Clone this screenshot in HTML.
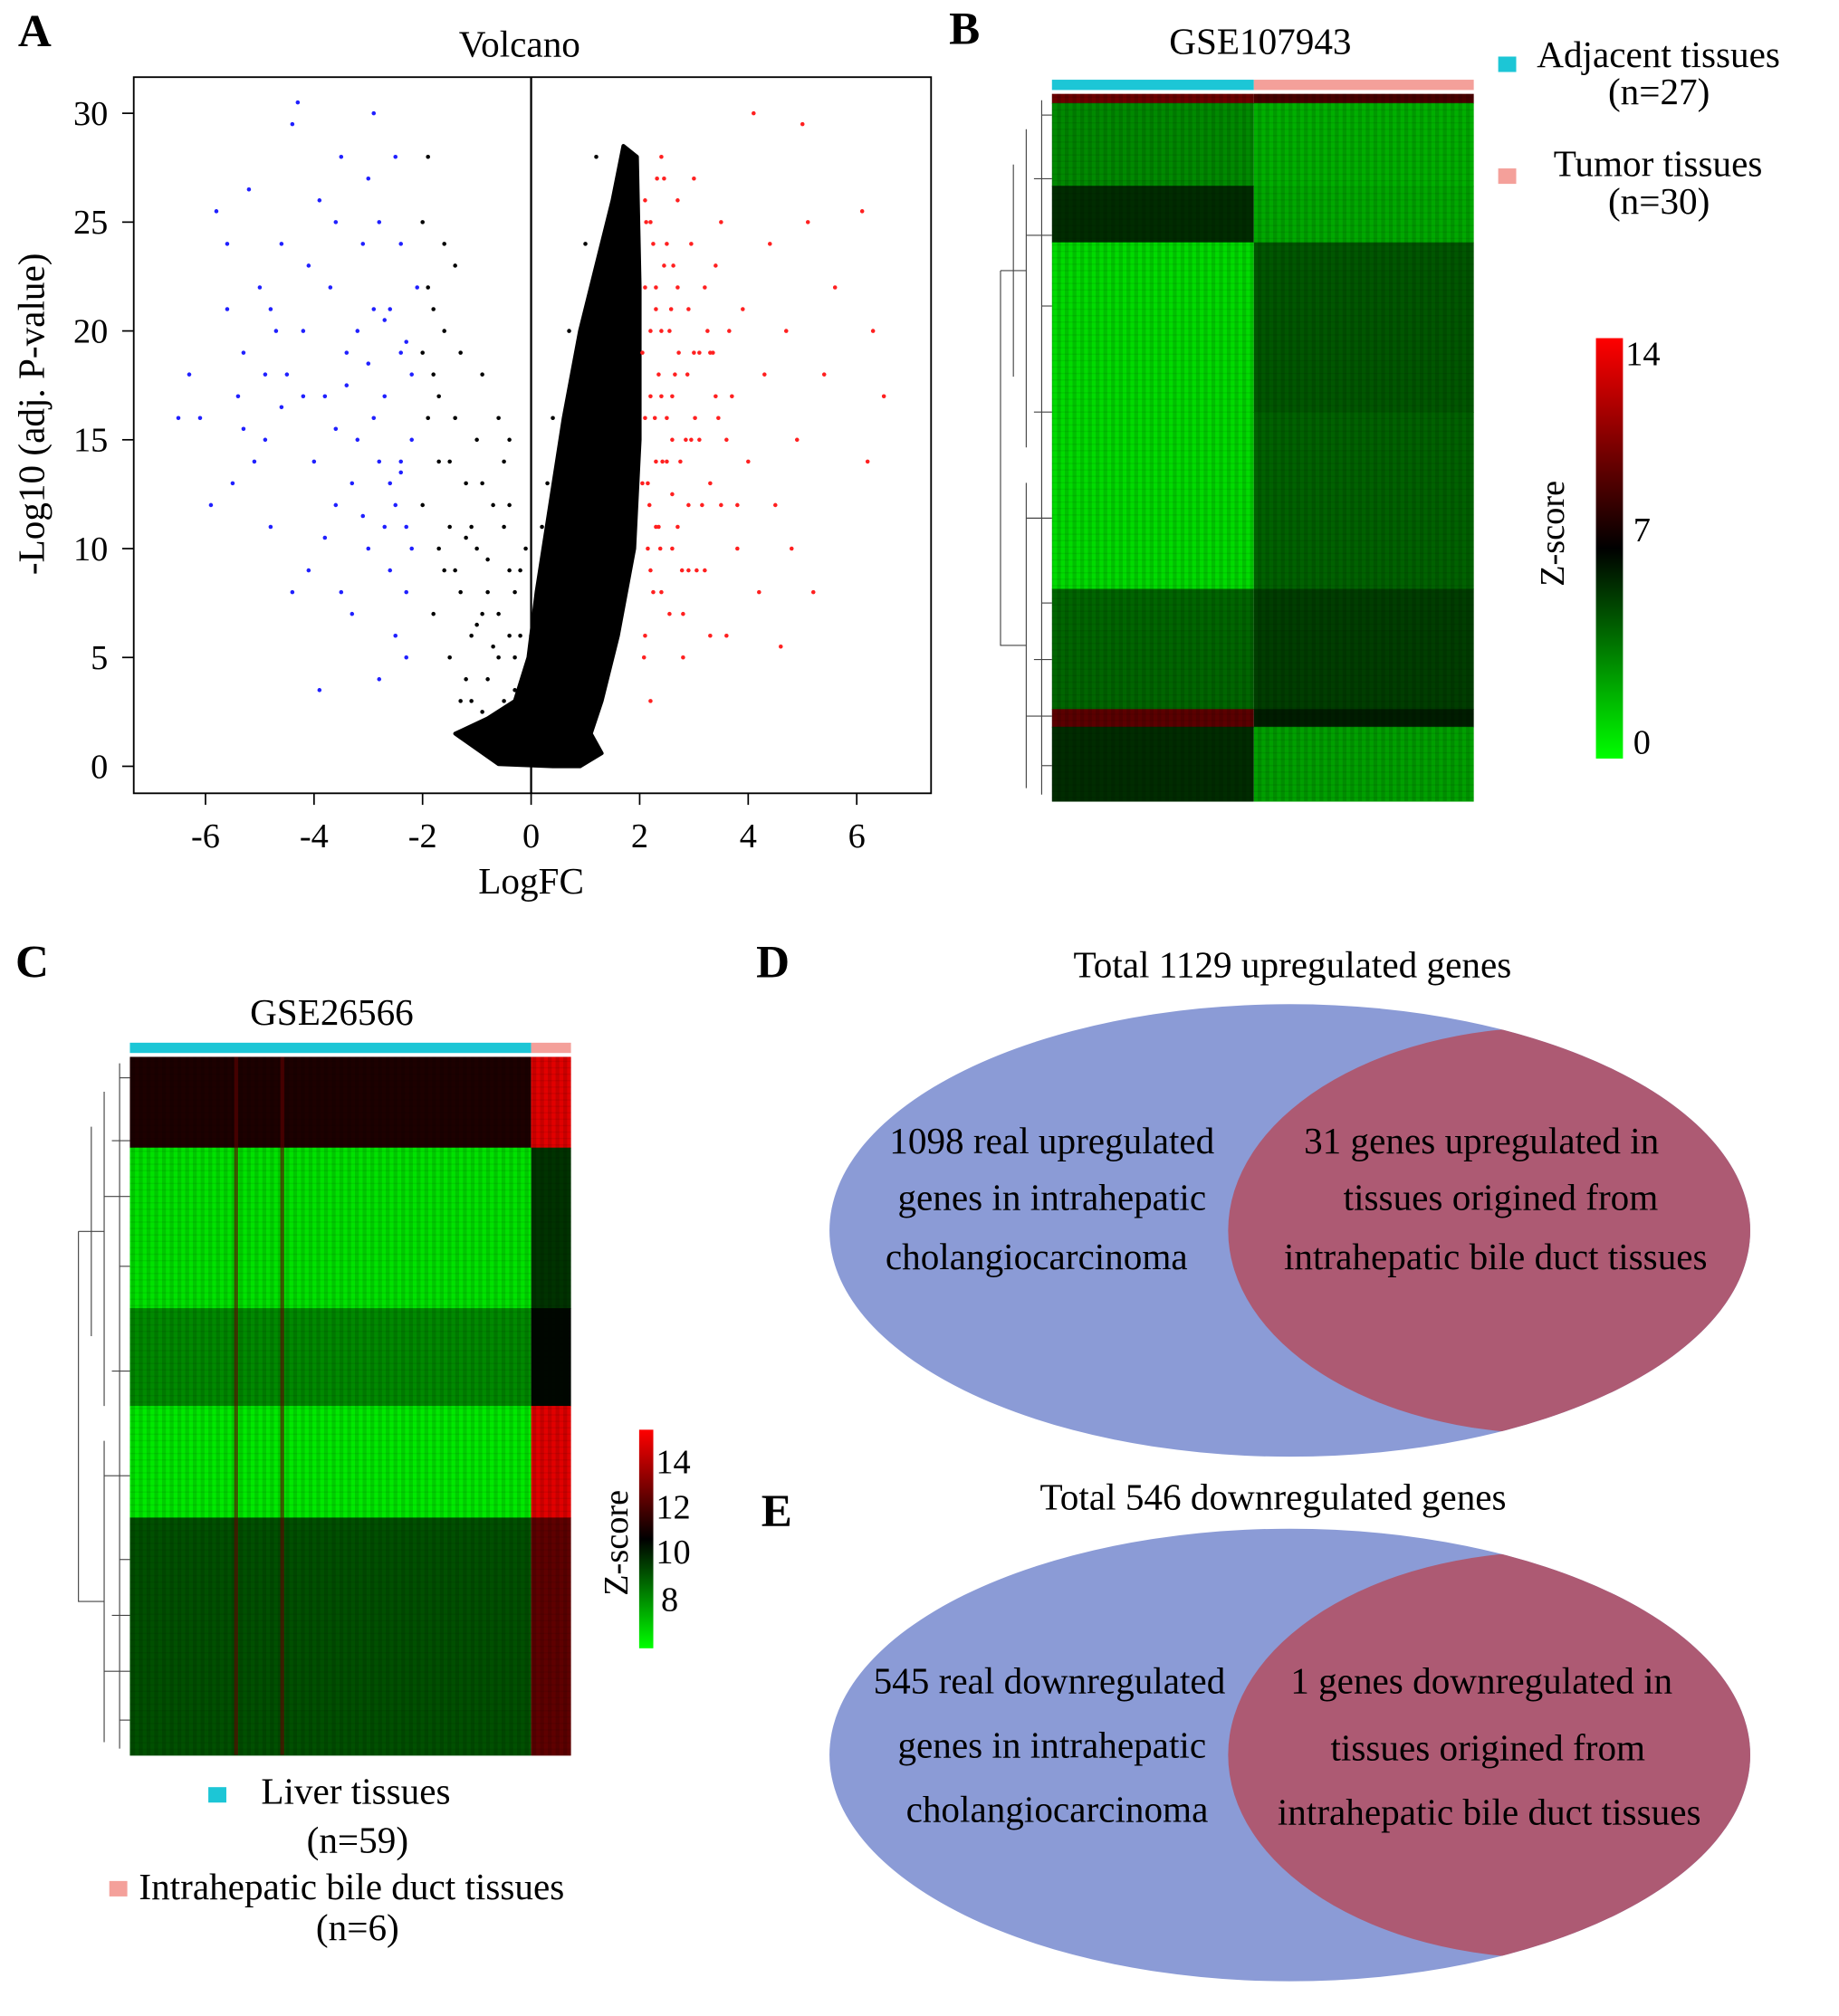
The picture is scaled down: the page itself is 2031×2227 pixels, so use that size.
<!DOCTYPE html>
<html><head><meta charset="utf-8"><style>
html,body{margin:0;padding:0;background:#fff;}
svg{display:block;font-family:"Liberation Serif",serif;}
</style></head><body>
<svg id="fig" width="2031" height="2227" viewBox="0 0 1430 1568" xmlns="http://www.w3.org/2000/svg">
<defs>
<linearGradient id="zgrad" x1="0" y1="1" x2="0" y2="0"><stop offset="0" stop-color="#00ff00"/><stop offset="0.5" stop-color="#000"/><stop offset="1" stop-color="#ff0000"/></linearGradient>
<clipPath id="clipD"><ellipse cx="1003" cy="957" rx="358" ry="176"/></clipPath>
<clipPath id="clipE"><ellipse cx="1003" cy="1365" rx="358" ry="176"/></clipPath>
<pattern id="stripes" width="6" height="5" patternUnits="userSpaceOnUse"><rect width="3" height="5" fill="#000" opacity="0.12"/><rect y="0" width="6" height="1" fill="#000" opacity="0.08"/></pattern>
</defs>
<!-- Panel A -->
<text x="14" y="36" font-size="36" font-weight="bold">A</text>
<text x="404" y="44" font-size="29" text-anchor="middle">Volcano</text>
<g id="volcano"></g>
<rect x="104" y="60" width="620" height="557" fill="none" stroke="#000" stroke-width="1.3"/>
<text x="413" y="695" font-size="29" text-anchor="middle">LogFC</text>
<text transform="translate(34,322) rotate(-90)" font-size="29" text-anchor="middle">-Log10 (adj. P-value)</text>
<!-- Panel B -->
<text x="738" y="34" font-size="36" font-weight="bold">B</text>
<text x="980" y="42" font-size="29" text-anchor="middle">GSE107943</text>
<g id="heatB"></g>
<rect x="1165" y="44" width="14" height="12" fill="#1cc6d6"/>
<text x="1195" y="52" font-size="29">Adjacent tissues</text>
<text x="1290" y="81" font-size="29" text-anchor="middle">(n=27)</text>
<rect x="1165" y="131" width="14" height="12" fill="#f4a09a"/>
<text x="1208" y="137" font-size="29">Tumor tissues</text>
<text x="1290" y="166" font-size="29" text-anchor="middle">(n=30)</text>
<rect x="1241" y="263" width="21" height="327" fill="url(#zgrad)"/>
<text x="1264" y="284" font-size="27">14</text>
<text x="1270" y="421" font-size="27">7</text>
<text x="1270" y="586" font-size="27">0</text>
<text transform="translate(1216,415) rotate(-90)" font-size="27" text-anchor="middle">Z-score</text>
<!-- Panel C -->
<text x="12" y="760" font-size="36" font-weight="bold">C</text>
<text x="258" y="797" font-size="29" text-anchor="middle">GSE26566</text>
<g id="heatC"></g>
<rect x="497" y="1112" width="11" height="170" fill="url(#zgrad)"/>
<text x="510" y="1146" font-size="27">14</text>
<text x="510" y="1181" font-size="27">12</text>
<text x="510" y="1216" font-size="27">10</text>
<text x="514" y="1253" font-size="27">8</text>
<text transform="translate(488,1200) rotate(-90)" font-size="27" text-anchor="middle">Z-score</text>
<rect x="162" y="1390" width="14" height="12" fill="#1cc6d6"/>
<text x="203" y="1403" font-size="29">Liver tissues</text>
<text x="278" y="1441" font-size="29" text-anchor="middle">(n=59)</text>
<rect x="85" y="1463" width="14" height="12" fill="#f4a09a"/>
<text x="108" y="1477" font-size="29">Intrahepatic bile duct tissues</text>
<text x="278" y="1509" font-size="29" text-anchor="middle">(n=6)</text>
<!-- Panel D -->
<text x="588" y="760" font-size="36" font-weight="bold">D</text>
<text x="1005" y="760" font-size="29" text-anchor="middle">Total 1129 upregulated genes</text>
<g>
<ellipse cx="1003" cy="957" rx="358" ry="176" fill="#8b9bd6"/>
<ellipse cx="1205" cy="957" rx="250" ry="158" fill="#ad5a73" clip-path="url(#clipD)"/>
</g>
<g font-size="29" text-anchor="middle">
<text x="818" y="897">1098 real upregulated</text>
<text x="818" y="941">genes in intrahepatic</text>
<text x="806" y="987">cholangiocarcinoma</text>
<text x="1152" y="897">31 genes upregulated in</text>
<text x="1167" y="941">tissues origined from</text>
<text x="1163" y="987">intrahepatic bile duct tissues</text>
</g>
<!-- Panel E -->
<text x="592" y="1187" font-size="36" font-weight="bold">E</text>
<text x="990" y="1174" font-size="29" text-anchor="middle">Total 546 downregulated genes</text>
<g>
<ellipse cx="1003" cy="1365" rx="358" ry="176" fill="#8b9bd6"/>
<ellipse cx="1205" cy="1365" rx="250" ry="158" fill="#ad5a73" clip-path="url(#clipE)"/>
</g>
<g font-size="29" text-anchor="middle">
<text x="816" y="1317">545 real downregulated</text>
<text x="818" y="1367">genes in intrahepatic</text>
<text x="822" y="1417">cholangiocarcinoma</text>
<text x="1152" y="1317">1 genes downregulated in</text>
<text x="1157" y="1369">tissues origined from</text>
<text x="1158" y="1419">intrahepatic bile duct tissues</text>
</g>
</svg>
<script>
// ---- Volcano data ----
const xTicks = [-6,-4,-2,0,2,4,6];
const yTicks = [0,5,10,15,20,25,30];
const blueX = [-6.3,-6.1,-5.8,-5.6,-5.5,-5.3,-5.2,-5.0,-4.9,-4.8,-4.6,-4.5,-4.3,-4.2,-4.1,-4.0,-3.9,-3.8,-3.7,-3.6,-3.5,-3.4,-3.3,-3.2,-3.1,-3.0,-2.9,-2.8,-2.7,-2.6,-2.5,-2.4,-2.3,-2.2,-2.1,-5.9,-5.4,-4.7,-4.4,-3.9,-3.6,-3.3,-2.9,-2.6,-2.3,-4.9,-4.1,-3.0,-2.5,-5.1,-6.5,-4.4,-2.9,-3.8,-3.4,-2.4,-2.7,-3.1,-4.6,-5.6,-2.2,-2.4,-2.6,-2.3,-2.8,-3.5,-2.2,-2.5,-3.2,-2.8,-4.2,-3.6,-2.3,-3.0,-4.8,-5.3,-2.7,-2.4];
const blueY = [18,16,25.5,21,13,19,26.5,22,15,11,24,18,30.5,20,9,14,26,17,22,12,28,19,7,15,24,10,21,4,17,13,28,19,8,15,22,12,17,20,8,3.5,25,13,16,9,11,18,23,27,6,14,16,29.5,30,10.5,17.5,24,20.5,11.5,16.5,24,18,14,21,5,25,8,10,12,20,14,17,15.5,19.5,18.5,21,15.5,11,13.5];
const greyX = [-2.0,-1.9,-1.8,-1.7,-1.6,-1.5,-1.4,-1.3,-1.2,-1.1,-1.0,-0.9,-0.8,-0.7,-0.6,-0.5,-0.4,-0.3,-0.2,-1.9,-1.6,-1.3,-1.0,-0.7,-1.5,-2.0,-1.8,-1.1,-0.9,-0.5,-1.4,-1.9,-0.6,-1.2,-0.3,0.2,0.0,0.4,0.7,1.0,1.2,-0.1,-1.7,-1.2,-0.8,-0.4,-1.5,-0.9,-0.2,-0.6,-1.0,-1.4,-0.3,-0.8,-1.1,-0.5,-0.7,-0.4,-0.9,-1.3,-0.2,-0.6,0.1,0.3,-1.7,-1.8,-2.0,-1.6,-0.1,-0.4];
const greyY = [25,22,18,14,20,11,16,8,13,6,10,18,4,12,7,3,9,5,2.5,16,9,19,15,2,5,12,7,3,13,11,23,28,16,10.5,8,11,6,16,20,24,28,4,10,4,8,6,14,7,6,5,6.5,9,3.5,9.5,11,14,5.5,12,2.5,3,9,2,7,13,17,21,19,24,10,15];
const coreX = [-1.4,-0.8,-0.3,-0.05,0.1,0.35,0.6,0.9,1.2,1.5,1.7,1.95,2.0,2.0,1.9,1.6,1.3,1.1,1.3,0.9,0.4,-0.6];
const coreY = [1.5,2.2,3,5,8,12,16,20,23,26,28.5,28,22,15,10,6,3,1.5,0.6,0,0,0.1];
const redX = [2.1,2.2,2.3,2.4,2.5,2.6,2.7,2.8,2.9,3.0,3.1,3.2,3.3,3.4,3.5,3.6,3.7,3.8,3.9,4.0,4.1,4.2,4.3,4.4,4.5,4.7,4.9,5.0,5.2,5.4,5.6,6.1,6.2,6.3,6.5,2.2,2.4,2.6,2.3,2.5,2.7,2.9,3.1,3.3,3.5,2.15,2.35,2.55,2.75,2.95,3.15,3.45,3.65,4.6,5.1,4.8,2.1,2.2,2.3,2.45,2.1,2.25,2.4,2.6,2.05,2.2,2.05,2.1,2.15,2.2,2.25,2.3,2.35,2.4,2.45,2.5,2.55,2.6,2.65,2.7,2.8,2.85,2.9,3.0,3.05,3.2,3.3,3.4,3.6,3.8,2.12,2.28,2.42,2.58,2.72,2.88,3.02,3.25,2.18,2.38,2.62,2.78,2.95,3.35,2.08,2.32];
const redY = [26,20,14,8,24,17,11,5,21,27,15,9,19,23,12,6,17,10,21,14,30,8,18,24,12,20,15,29.5,8,18,22,25.5,14,20,17,3,28,12.5,22,16,26,9,19,6,25,10,18,7,14,24,12,16,20,5.5,25,10,22,17,11,27,6,24,20,15,13,9,19,16,13,25,8,21,11,17,23,14,20,10,18,22,7,15,12,19,9,22,13,17,15,12,25,16,14,21,19,18,16,20,12,10,23,9,15,19,5,27];

const NS='http://www.w3.org/2000/svg';
function mk(tag, attrs, parent){const e=document.createElementNS(NS,tag);for(const k in attrs)e.setAttribute(k,attrs[k]);parent.appendChild(e);return e;}
const sx = v => 413 + 42.2*v;
const sy = v => 596 - 16.93*v;
const vg = document.getElementById('volcano');

let pts = coreX.map((x,i)=>sx(x)+','+sy(coreY[i])).join(' ');
let core = mk('polygon',{points:pts,fill:'#000',stroke:'#000','stroke-width':3,'stroke-linejoin':'round'},vg);


function dots(xs,ys,col,name){
  xs.forEach((x,i)=>{
    const c = mk('circle',{cx:sx(x),cy:sy(ys[i]),r:1.6,fill:col},vg);
    
    
  });
}
dots(greyX,greyY,'#000','point-nonsig');
dots(blueX,blueY,'#2020ff','point-down');
dots(redX,redY,'#ff2020','point-up');
const zl = mk('line',{x1:sx(0),x2:sx(0),y1:60,y2:617,stroke:'#000','stroke-width':1.6},vg);


xTicks.forEach(t=>{
  mk('line',{x1:sx(t),x2:sx(t),y1:617,y2:626,stroke:'#000','stroke-width':1.2},vg);
  const tx = mk('text',{x:sx(t),y:659,'font-size':27,'text-anchor':'middle'},vg);
  tx.textContent=t;
  
  
});
yTicks.forEach(t=>{
  mk('line',{x1:95,x2:104,y1:sy(t),y2:sy(t),stroke:'#000','stroke-width':1.2},vg);
  const tx = mk('text',{x:84,y:sy(t)+9,'font-size':27,'text-anchor':'end'},vg);
  tx.textContent=t;
  
  
});

// ---- Heatmap data ----
const bRowStart = [0,1.3,13,21,45,70,87,89.5];
const bRowEnd   = [1.3,13,21,45,70,87,89.5,100];
const bLeftZ    = [10,3.2,5.8,1.0,1.0,4.2,9.5,5.8];
const bRightZ   = [9,2.2,2.4,4.6,4.3,5.3,6.2,2.6];
const cRowStart = [0,13,36,50,66];
const cRowEnd   = [13,36,50,66,100];
const cLeftZ    = [10.9,7.4,8.6,7.3,9.4];
const cRightZ   = [13.6,9.8,10.4,13.6,11.8];
const cHotCols  = [0.26,0.375];

function zcol(z,lo,hi){
  const t=Math.max(0,Math.min(1,(z-lo)/(hi-lo)));
  if(t<0.5){const g=Math.round(255*(1-t/0.5));return 'rgb(0,'+g+',0)';}
  const r=Math.round(255*((t-0.5)/0.5));return 'rgb('+r+',0,0)';
}
function heat(gid,x0,xs,x1,y0,y1,starts,ends,lz,rz,lo,hi,leftBarCol,rightBarCol){
  const g=document.getElementById(gid);
  const ry=v=>y0+(y1-y0)*v/100;
  const lb=mk('rect',{x:x0,y:y0-11,width:xs-x0,height:8,fill:leftBarCol},g);
  
  
  const rb=mk('rect',{x:xs,y:y0-11,width:x1-xs,height:8,fill:rightBarCol},g);
  
  
  starts.forEach((s,i)=>{
    const a=mk('rect',{x:x0,y:ry(s),width:xs-x0,height:ry(ends[i])-ry(s)+0.5,fill:zcol(lz[i],lo,hi)},g);
    
    
    const b=mk('rect',{x:xs,y:ry(s),width:x1-xs,height:ry(ends[i])-ry(s)+0.5,fill:zcol(rz[i],lo,hi)},g);
    
    
  });
  const tex=mk('rect',{x:x0,y:y0,width:x1-x0,height:y1-y0,fill:'url(#stripes)'},g);
  
  
  const dx=x0-40, ys=[0.03,0.12,0.2,0.3,0.45,0.6,0.72,0.8,0.88,0.95];
  ys.forEach((f,i)=>{
    const y=y0+(y1-y0)*f;
    mk('line',{x1:x0-8-(i%3)*6,x2:x0,y1:y,y2:y,stroke:'#444','stroke-width':0.8},g);
  });
  mk('path',{d:`M${x0-8},${y0+5} V${y1-5} M${x0-20},${y0+(y1-y0)*0.05} V${y0+(y1-y0)*0.5} M${x0-20},${y0+(y1-y0)*0.55} V${y1-10} M${dx},${y0+(y1-y0)*0.25} V${y0+(y1-y0)*0.78} H${x0-20} M${dx},${y0+(y1-y0)*0.25} H${x0-20} M${x0-30},${y0+(y1-y0)*0.1} V${y0+(y1-y0)*0.4}`,stroke:'#444','stroke-width':0.8,fill:'none'},g);
  return g;
}
heat('heatB',818,975,1146,73,623,bRowStart,bRowEnd,bLeftZ,bRightZ,0,14,'#1cc6d6','#f4a09a');
const gC=heat('heatC',101,413,444,822,1365,cRowStart,cRowEnd,cLeftZ,cRightZ,7,14,'#1cc6d6','#f4a09a');
cHotCols.forEach(f=>{
  const r=mk('rect',{x:101+(413-101)*f,y:822,width:3,height:543,fill:'#600000',opacity:'0.6'},gC);
  
  
});
</script>
</body></html>
